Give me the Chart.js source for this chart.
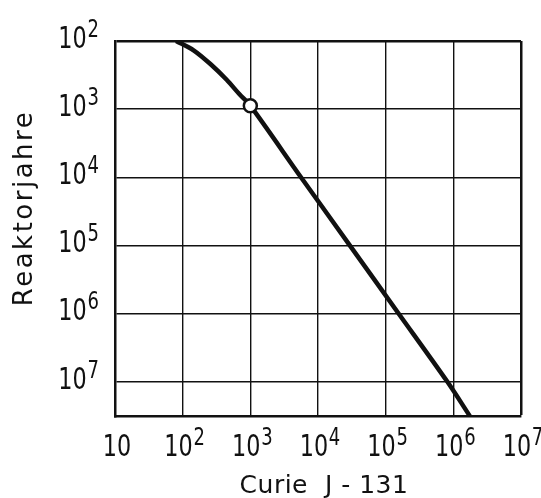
<!DOCTYPE html>
<html>
<head>
<meta charset="utf-8">
<script src="https://cdn.jsdelivr.net/npm/chart.js@4.4.1/dist/chart.umd.min.js"></script>
<style>
  html, body { margin: 0; padding: 0; background: #fff; }
  #wrap { width: 541px; height: 498px; position: relative; }
</style>
</head>
<body>
<div id="wrap"><canvas id="chart"></canvas></div>
<script>
// ==== Data ====
const curie = [80, 145, 257, 447, 692, 1000, 5600, 29500, 155000, 813000, 1750000];
const reaktorjahre = [100, 137, 218, 371, 607, 890, 1e4, 1e5, 1e6, 1e7, 3.2e7];
const markerCurie = [1000];
const markerJahre = [890];

const xTicks = [10, 1e2, 1e3, 1e4, 1e5, 1e6, 1e7];
const xExponents = ["", "2", "3", "4", "5", "6", "7"];
const yTicks = [1e2, 1e3, 1e4, 1e5, 1e6, 1e7];
const yExponents = ["2", "3", "4", "5", "6", "7"];

const xTitle = "Curie  J - 131";
const yTitle = "Reaktorjahre";

const tickFont = "'DejaVu Sans Condensed', 'Liberation Sans Narrow', 'DejaVu Sans', sans-serif";
const titleFont = "'DejaVu Sans', sans-serif";
const ink = "#111";

// ==== Superscript tick labels (drawn narrow, like the original lettering) ====
const squeeze = 0.8;

function drawPower(ctx, base, exp, x, baseY, align) {
  ctx.font = "31px " + tickFont;
  const wb = ctx.measureText(base).width;
  ctx.font = "25px " + tickFont;
  const we = exp ? ctx.measureText(exp).width + 1 : 0;
  const total = (wb + we) * squeeze;
  let left = x;
  if (align === "right") left = x - total;
  if (align === "center") left = x - total / 2;
  ctx.save();
  ctx.translate(left, baseY);
  ctx.scale(squeeze, 1);
  ctx.textAlign = "left";
  ctx.textBaseline = "alphabetic";
  ctx.font = "31px " + tickFont;
  ctx.fillText(base, 0, 0);
  if (exp) {
    ctx.font = "25px " + tickFont;
    ctx.fillText(exp, wb + 1, -11);
  }
  ctx.restore();
}

const axisText = {
  id: "axisText",
  afterDraw(chart) {
    const ctx = chart.ctx;
    const xs = chart.scales.x, ys = chart.scales.y;
    ctx.save();
    ctx.fillStyle = ink;
    xTicks.forEach((v, i) => {
      drawPower(ctx, "10", xExponents[i], xs.getPixelForValue(v) + 2, 456, "center");
    });
    yTicks.forEach((v, i) => {
      drawPower(ctx, "10", yExponents[i], 99, ys.getPixelForValue(v) + 7, "right");
    });

    // axis titles
    ctx.font = "25px " + titleFont;
    ctx.letterSpacing = "0.5px";
    ctx.textAlign = "center";
    ctx.textBaseline = "alphabetic";
    ctx.fillText(xTitle, 324, 493);

    ctx.font = "26px " + titleFont;
    ctx.letterSpacing = "2.5px";
    ctx.translate(32, 208);
    ctx.rotate(-Math.PI / 2);
    ctx.fillText(yTitle, 0, 0);
    ctx.restore();
  }
};

// ==== Chart ====
const edgeWidth = (ctx, edges) => edges.includes(ctx.tick && ctx.tick.value) ? 2.5 : 1.4;

new Chart(document.getElementById("chart"), {
  type: "line",
  data: {
    datasets: [
      {
        data: curie.map((c, i) => ({ x: c, y: reaktorjahre[i] })),
        borderColor: ink,
        borderWidth: 4.5,
        pointRadius: 0,
        tension: 0.3,
        fill: false,
        order: 2
      },
      {
        data: markerCurie.map((c, i) => ({ x: c, y: markerJahre[i] })),
        showLine: false,
        pointRadius: 6.5,
        pointBackgroundColor: "#fff",
        pointBorderColor: ink,
        pointBorderWidth: 2.5,
        order: 1
      }
    ]
  },
  options: {
    responsive: true,
    maintainAspectRatio: false,
    animation: false,
    layout: { padding: { top: 41, right: 20, left: 0, bottom: 0 } },
    plugins: { legend: { display: false }, tooltip: { enabled: false } },
    scales: {
      x: {
        type: "logarithmic",
        min: 10,
        max: 1e7,
        afterBuildTicks: s => { s.ticks = xTicks.map(v => ({ value: v })); },
        afterFit: s => { s.height = 82; },
        ticks: { display: false },
        grid: {
          color: ink,
          lineWidth: c => edgeWidth(c, [1e7]),
          drawTicks: false
        },
        border: { color: ink, width: 2.5 }
      },
      y: {
        type: "logarithmic",
        reverse: true,
        min: 100,
        max: 3.2e7,
        afterBuildTicks: s => { s.ticks = yTicks.map(v => ({ value: v })); },
        afterFit: s => { s.width = 115; },
        ticks: { display: false },
        grid: {
          color: ink,
          lineWidth: c => edgeWidth(c, [1e2]),
          drawTicks: false
        },
        border: { color: ink, width: 2.5 }
      }
    }
  },
  plugins: [axisText]
});
</script>
</body>
</html>
